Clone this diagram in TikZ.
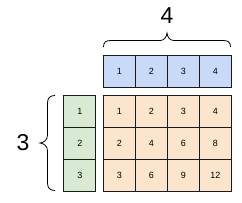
\documentclass[tikz,border=0pt]{standalone}
\usepackage{fontspec}
\setmainfont{Liberation Sans}
\definecolor{cblue}{HTML}{C9DAF8}
\definecolor{cgreen}{HTML}{D9EAD3}
\definecolor{corange}{HTML}{FCE5CD}
\definecolor{cline}{HTML}{1A1A1A}
\begin{document}
\begin{tikzpicture}[x=1pt,y=-1pt,
  cell/.style={draw=cline,line width=0.9pt,minimum width=32pt,minimum height=32pt,inner sep=0pt,font=\fontsize{9}{10}\selectfont,anchor=north west},
  bcell/.style={cell,fill=cblue},
  gcell/.style={cell,fill=cgreen},
  ocell/.style={cell,fill=corange},
  bigtxt/.style={font=\fontsize{23}{24}\selectfont,inner sep=0pt},
  bracestyle/.style={draw=black,line width=0.8pt}]
\useasboundingbox (0,0) rectangle (242,202);
% blue row
\foreach \i in {1,...,4}{
  \node[bcell] (b\i) at ({103+32*(\i-1)},55) {\i};
}
% green column
\foreach \j in {1,...,3}{
  \node[gcell] (g\j) at (63.5,{95+32*(\j-1)}) {\j};
}
% orange grid
\foreach \j in {1,...,3}{
  \foreach \i in {1,...,4}{
    \pgfmathtruncatemacro{\v}{\i*\j}
    \node[ocell] (o\i\j) at ({103+32*(\i-1)},{95+32*(\j-1)}) {\v};
  }
}
% top brace
\draw[bracestyle] (103.5,47) .. controls (103.5,42) and (106,40.5) .. (111,40.5) -- (160,40.5)
  .. controls (164.5,40.5) and (166.5,37) .. (167,33)
  .. controls (167.5,37) and (169.5,40.5) .. (174,40.5) -- (223,40.5)
  .. controls (228,40.5) and (230.5,42) .. (230.5,47);
\node[bigtxt] (four) at (167,16) {4};
% left brace
\draw[bracestyle] (55,95.5) .. controls (50,95.5) and (47.5,98) .. (47.5,103) -- (47.5,135)
  .. controls (47.5,140) and (44,142.5) .. (40,143)
  .. controls (44,143.5) and (47.5,146) .. (47.5,151) -- (47.5,183)
  .. controls (47.5,188) and (50,190.5) .. (55,190.5);
\node[bigtxt] (three) at (23,143) {3};
\end{tikzpicture}
\end{document}
